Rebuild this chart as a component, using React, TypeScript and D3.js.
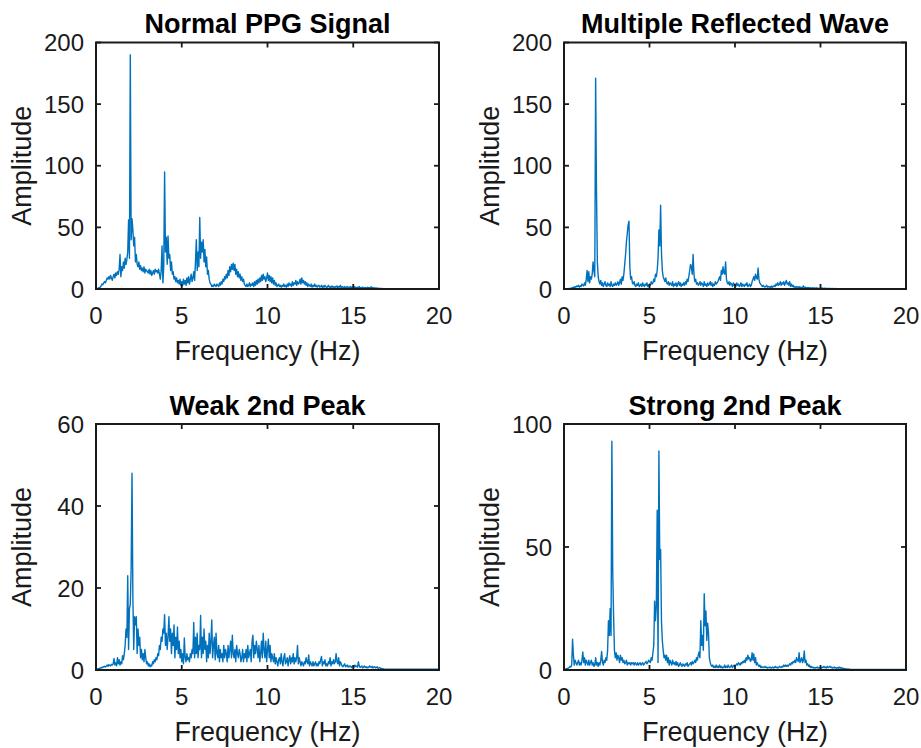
import React from 'react';
import * as d3 from 'd3';

// ---------- data ----------
const FREQ_STEP = 0.05; // Hz between spectrum bins
const FREQ_END = 20;
const X_TICKS = [0, 5, 10, 15, 20];

const TITLES = ['Normal PPG Signal', 'Multiple Reflected Wave', 'Weak 2nd Peak', 'Strong 2nd Peak'];
const Y_MAX = [200, 200, 60, 100];
const Y_TICKS = [
  [0, 50, 100, 150, 200],
  [0, 50, 100, 150, 200],
  [0, 20, 40, 60],
  [0, 50, 100],
];
const TAIL_LEVEL = [0.3, 0.3, 0.2, 0.2];

// amplitudes at 0.00, 0.05, 0.10 ... Hz (one row = 1 Hz)
const normalAmp = [
  0.3, 0.4, 0.5, 0.8, 1.2, 1.5, 2.5, 4, 3.5, 5, 6, 5, 7, 9, 8, 10, 8, 11, 9, 7,
  10, 12, 9, 13, 11, 14, 12, 16, 28, 10, 18, 15, 22, 17, 25, 20, 24, 30, 56, 25,
  190, 40, 57, 48, 35, 42, 22, 28, 20, 18, 22, 16, 19, 15, 17, 14, 18, 13, 16, 15,
  14, 13, 16, 12, 15, 11, 13, 15, 12, 16, 14, 15, 13, 16, 12, 8, 15, 35, 5, 18,
  95, 30, 42, 20, 43, 25, 28, 15, 22, 12, 14, 8, 10, 6, 9, 5, 7, 4, 8, 3,
  6, 3, 8, 4, 7, 3, 9, 5, 10, 4, 8, 12, 6, 9, 14, 7, 22, 40, 15, 30,
  18, 58, 25, 38, 30, 40, 22, 32, 18, 26, 12, 15, 8, 5, 4, 2, 3, 2, 4, 3,
  2, 4, 3, 2, 5, 3, 6, 4, 8, 6, 10, 8, 12, 9, 15, 11, 18, 14, 20, 16,
  21, 15, 20, 12, 16, 10, 14, 9, 12, 7, 10, 6, 8, 4, 3, 2, 4, 2, 3, 5,
  2, 4, 3, 5, 2, 6, 3, 7, 4, 8, 5, 9, 6, 11, 7, 12, 8, 10, 6, 9,
  13, 7, 11, 6, 10, 5, 9, 4, 7, 3, 5, 2, 3, 4, 2, 3, 1.5, 3, 2, 4,
  2, 3, 1.5, 4, 2, 5, 3, 4, 2, 6, 3, 5, 4, 7, 3, 6, 4, 5, 8, 4,
  9, 5, 7, 4, 6, 3, 5, 2, 4, 3, 2, 4, 1.5, 3, 2, 4, 2, 3, 1.5, 2.5,
  3, 1.5, 2, 3, 1, 2.5, 1.5, 3, 2, 1, 2, 3, 1.5, 2, 1, 2.5, 1.5, 2, 1, 2,
  1.5, 2.5, 1, 2, 1.5, 3, 1, 2, 1.5, 1, 2, 1, 1.5, 2, 1, 1.5, 1, 2, 1, 1.5,
  1, 2, 1, 1.5, 0.8, 1.5, 1, 2, 0.8, 1.2, 1, 1.5, 0.8, 1, 1.2, 0.8, 1, 1.5, 0.8, 1,
  1, 1.8, 0.8, 1.2, 0.6, 1, 0.5, 0.8, 0.5, 0.6, 0.4, 0.5, 0.4, 0.3, 0.4, 0.3, 0.3, 0.3, 0.3, 0.3,
];

const reflectedAmp = [
  0.1, 0.1, 0.2, 0.2, 0.3, 0.3, 0.4, 0.5, 0.6, 0.8, 1, 1.5, 1, 2, 1.5, 2.5, 2, 3, 1.5, 2.5,
  2, 4, 3, 2.5, 5, 3, 8, 15, 6, 14, 5, 10, 8, 12, 22, 15, 10, 171, 80, 22,
  10, 6, 4, 7, 3, 5, 2, 4, 6, 3, 2, 5, 3, 4, 2, 6, 3, 2, 4, 3,
  5, 3, 4, 6, 3, 5, 8, 4, 10, 7, 12, 20, 28, 38, 45, 52, 55, 18, 8, 10,
  5, 4, 6, 3, 2, 4, 3, 5, 2, 3, 4, 2, 5, 3, 2, 4, 3, 5, 2, 3,
  4, 3, 6, 4, 5, 8, 6, 12, 10, 15, 25, 48, 35, 68, 30, 15, 10, 8, 6, 9,
  5, 4, 6, 3, 5, 4, 3, 6, 2, 4, 3, 5, 2, 4, 6, 3, 5, 2, 4, 3,
  5, 3, 6, 4, 8, 6, 10, 15, 20, 18, 12, 28, 12, 6, 8, 4, 5, 3, 4, 6,
  3, 5, 4, 2, 6, 3, 4, 2, 5, 3, 4, 6, 3, 5, 2, 4, 3, 6, 4, 5,
  6, 8, 10, 7, 15, 12, 18, 13, 12, 22, 8, 5, 4, 6, 3, 5, 4, 2, 5, 3,
  4, 2, 5, 3, 4, 2, 3, 5, 2, 4, 3, 2, 4, 3, 5, 2, 3, 4, 2, 3,
  6, 8, 10, 7, 12, 9, 8, 17, 8, 5, 4, 3, 2, 3, 2, 1.5, 2, 3, 1.5, 2,
  1.5, 2, 1, 2.5, 1.5, 2, 3, 2, 4, 3, 5, 3, 4, 6, 3, 5, 4, 6, 3, 5,
  7, 4, 5, 3, 6, 2, 4, 2, 3, 1.5, 2, 1, 2, 1.5, 1, 2, 1, 1.5, 1, 1.2,
  2.5, 1, 1.5, 1, 0.8, 1.2, 1, 0.8, 1, 0.6, 0.8, 1, 0.5, 0.8, 0.6, 1, 0.5, 0.7, 0.5, 0.6,
  0.5, 0.6, 0.8, 0.5, 0.4, 0.6, 0.5, 0.4, 0.5, 0.4, 0.3, 0.5, 0.4, 0.3, 0.4, 0.3, 0.3, 0.4, 0.3, 0.3,
];

const weakAmp = [
  0.1, 0.2, 0.3, 0.3, 0.4, 0.5, 0.5, 0.7, 0.6, 0.8, 0.9, 0.7, 1, 1.2, 0.9, 1.3, 1.1, 1, 1.4, 1.2,
  1.5, 2.8, 1.2, 1.8, 1, 3, 1.5, 2.5, 1.2, 2, 1.5, 3.5, 2.5, 4, 6, 10, 8, 23, 5, 15,
  16, 25, 48, 18, 5, 13, 11, 13, 4, 10, 6, 8, 3, 5, 2.5, 4, 2, 5, 3, 1.5,
  2, 1, 1.5, 0.8, 1.2, 1, 2, 1.5, 2.5, 2, 3, 2.5, 4, 3.5, 6, 5, 8, 7, 10, 9,
  13.5, 6, 9, 5, 8, 13, 7, 10, 4, 9, 6, 11, 3, 8, 5, 10.5, 4, 7, 3, 5,
  2, 4, 1.5, 7.8, 3, 2, 4, 2.5, 3, 2, 4, 3, 5, 4, 11.6, 3, 8, 4, 9, 3,
  6, 5, 13.3, 3, 8, 4, 10, 5, 7, 2, 6, 3, 9, 4, 7, 12.2, 3, 6, 8, 2.5,
  9, 4, 3, 6, 2, 5, 3, 4, 2, 6, 3, 5, 4, 2, 6, 3, 5, 7, 3, 8.5,
  4, 3, 5, 2, 6, 4, 3, 5, 4, 2, 3, 5, 2, 4, 3, 5, 2, 6, 3, 4,
  5, 2, 7, 8.5, 3, 6, 4, 7, 5, 3, 6, 2, 4, 7, 3, 9, 5, 3, 7, 2,
  5, 7.5, 3, 6, 2, 4, 3, 2, 4, 1.5, 3, 2, 1, 2.5, 3, 1.5, 4, 2, 1, 3,
  4, 1.5, 2, 3, 1, 2.5, 3.5, 1.5, 3, 2, 4, 1.5, 3, 2, 3, 6, 1.5, 3, 2, 1,
  2, 1.5, 1, 2, 1.5, 3, 2, 1.5, 3.7, 1, 2, 1.5, 1, 2, 1, 1.5, 2, 1, 1.5, 1,
  2, 1.5, 2.5, 3.3, 1, 2, 1.5, 2.5, 1, 1.5, 1, 2, 1.5, 3, 1, 2, 1.5, 2.5, 1.5, 2,
  4, 2, 1.5, 3, 1, 2, 1.5, 1, 0.8, 1.2, 1.5, 0.8, 1, 1.2, 0.7, 1, 0.8, 1, 0.6, 0.8,
  1, 0.7, 1.2, 0.8, 1, 0.7, 2, 1, 0.6, 0.8, 1, 0.5, 0.7, 1, 0.6, 0.8, 0.5, 0.7, 0.6, 1,
  0.8, 0.6, 0.9, 0.5, 0.7, 0.8, 0.5, 0.6, 0.8, 0.4, 0.5, 0.6, 0.3, 0.4, 0.3, 0.3, 0.2, 0.2, 0.2, 0.2,
];

const strongAmp = [
  0.3, 0.3, 0.4, 0.5, 0.6, 0.8, 1, 1.5, 1.2, 2, 12.5, 6, 2, 4, 3, 2, 3, 4, 2, 3,
  2, 4, 7.3, 3, 5, 2, 4, 3, 2, 4, 2, 3, 4, 2, 3, 1.5, 2, 5, 2, 3,
  1.5, 3, 2, 4, 7.5, 3, 2, 4, 3, 5, 4, 8, 20, 14, 25, 14, 93, 40, 22, 8,
  5, 7, 4, 6, 5, 3, 6, 4, 5, 3, 4, 2.5, 3, 4, 2, 3, 2.5, 3, 2, 3,
  2.5, 3, 2, 3, 2.5, 2, 3, 2, 2.5, 3, 2, 2.5, 3, 2, 2.5, 3, 3.5, 2.5, 3, 4,
  3.5, 3, 5, 4, 7, 10, 28, 20, 26, 65, 3, 89, 45, 49, 20, 12, 8, 5, 6, 4,
  6, 3, 5, 2, 4, 3, 2, 4, 2.5, 3, 2, 3.5, 2, 3, 1.5, 2, 3, 2, 1.5, 2.5,
  2, 1.5, 2.5, 2, 3, 1.5, 2, 2.5, 3, 2, 3.5, 2.5, 3, 4, 3, 5, 4, 6, 7.3, 5,
  20, 10, 14, 8, 31, 18, 24, 12, 19, 15, 5, 3, 2, 1.5, 2, 1, 1.5, 1, 2, 1,
  1.5, 1, 2, 1, 1.5, 0.8, 1.2, 1, 2, 1, 1.5, 1, 2, 1.2, 1, 1.5, 2, 1, 1.5, 2,
  1.5, 2, 2.5, 2, 3, 2.5, 2, 3, 2.5, 3.5, 3, 4, 3, 5, 4, 6, 4.5, 5, 3.5, 4,
  7, 4, 6.5, 3, 5, 2, 3, 2, 1.5, 2, 1, 1.5, 1, 1.2, 1, 1.5, 1, 1.2, 0.8, 1,
  1, 1.2, 0.8, 1, 1.2, 0.8, 1, 1.5, 1, 1.2, 0.8, 1, 1.5, 1.2, 1, 1.5, 1.2, 2, 1.5, 2,
  1.5, 2, 1.5, 2, 2.5, 2, 3, 2.5, 3.5, 3, 4, 3, 5, 4, 3.5, 7, 3, 4, 5, 3,
  4, 7.7, 3, 4, 2, 2.5, 1.5, 2, 1, 1.5, 1, 1.2, 0.8, 1, 0.8, 1, 1.2, 0.8, 1, 0.8,
  1, 0.8, 1.2, 1, 1.5, 1, 1.2, 0.8, 1.5, 1, 1.2, 1.5, 1, 1.2, 0.8, 1, 1.2, 0.8, 1, 0.7,
  1, 0.7, 1.2, 0.8, 1, 0.6, 0.8, 0.5, 0.6, 0.4, 0.5, 0.3, 0.4, 0.3, 0.3, 0.2, 0.2, 0.2, 0.2, 0.2,
];

const SERIES = [normalAmp, reflectedAmp, weakAmp, strongAmp];

// ---------- layout ----------
const W = 921;
const H = 748;
const COLS: [number, number][] = [[96, 439], [564, 906]];
const ROWS: [number, number][] = [[42.5, 289], [424, 670]];
const FONT = "'Liberation Sans', Arial, Helvetica, sans-serif";
const INK = '#1a1a1a';
const LINE = '#0072BD';
const TICK_LEN = 5;

function Panel({ idx }: { idx: number }) {
  const [x0, x1] = COLS[idx % 2];
  const [y0, y1] = ROWS[Math.floor(idx / 2)];
  const x = d3.scaleLinear().domain([0, FREQ_END]).range([x0, x1]);
  const y = d3.scaleLinear().domain([0, Y_MAX[idx]]).range([y1, y0]);
  const amp = SERIES[idx];
  const pts: [number, number][] = amp.map((a, i) => [i * FREQ_STEP, a] as [number, number]);
  pts.push([FREQ_END, TAIL_LEVEL[idx]]);
  const path = d3
    .line<[number, number]>()
    .x((d) => x(d[0]))
    .y((d) => y(d[1]))(pts) as string;

  const midX = (x0 + x1) / 2;
  const midY = (y0 + y1) / 2;

  return (
    <g>
      <path d={path} fill="none" stroke={LINE} strokeWidth={1.4} strokeLinejoin="round" />
      {X_TICKS.map((t) => (
        <g key={'xt' + t}>
          <line x1={x(t)} x2={x(t)} y1={y1} y2={y1 - TICK_LEN} stroke={INK} strokeWidth={1.8} />
          <line x1={x(t)} x2={x(t)} y1={y0} y2={y0 + TICK_LEN} stroke={INK} strokeWidth={1.8} />
          <text x={x(t)} y={y1 + 35} textAnchor="middle" fontSize={24} fill={INK} fontFamily={FONT}>
            {t}
          </text>
        </g>
      ))}
      {Y_TICKS[idx].map((t) => (
        <g key={'yt' + t}>
          <line x1={x0} x2={x0 + TICK_LEN} y1={y(t)} y2={y(t)} stroke={INK} strokeWidth={1.8} />
          <line x1={x1} x2={x1 - TICK_LEN} y1={y(t)} y2={y(t)} stroke={INK} strokeWidth={1.8} />
          <text x={x0 - 12} y={y(t) + 8.5} textAnchor="end" fontSize={24} fill={INK} fontFamily={FONT}>
            {t}
          </text>
        </g>
      ))}
      <rect x={x0} y={y0} width={x1 - x0} height={y1 - y0} fill="none" stroke={INK} strokeWidth={2} />
      <text x={midX} y={y0 - 9.5} textAnchor="middle" fontSize={27} fontWeight="bold" fill="#000" fontFamily={FONT}>
        {TITLES[idx]}
      </text>
      <text x={midX} y={y1 + 71} textAnchor="middle" fontSize={27} fill={INK} fontFamily={FONT}>
        Frequency (Hz)
      </text>
      <text
        transform={`translate(${x0 - 65},${midY}) rotate(-90)`}
        textAnchor="middle"
        fontSize={27}
        fill={INK}
        fontFamily={FONT}
      >
        Amplitude
      </text>
    </g>
  );
}

export default function App() {
  return (
    <svg
      width={W}
      height={H}
      viewBox={`0 0 ${W} ${H}`}
      style={{ position: 'absolute', left: 0, top: 0, background: '#fff' }}
    >
      <rect x={0} y={0} width={W} height={H} fill="#fff" />
      {[0, 1, 2, 3].map((i) => (
        <Panel key={i} idx={i} />
      ))}
    </svg>
  );
}
